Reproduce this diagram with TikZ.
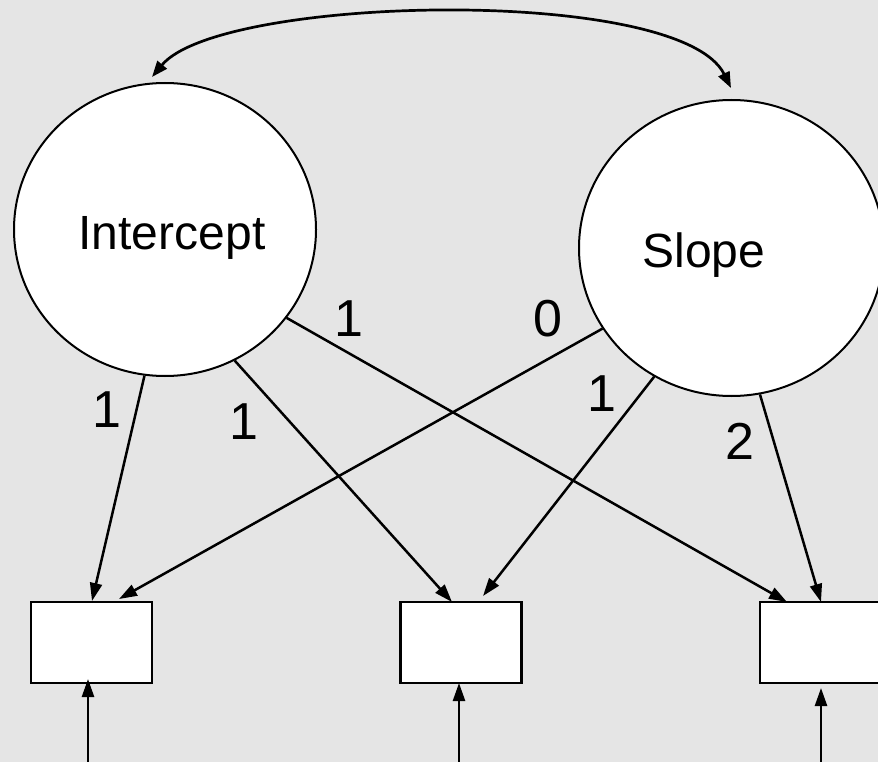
\documentclass[tikz,border=0pt]{standalone}
\usepackage{fontspec}
\setmainfont{Liberation Sans}
\usetikzlibrary{arrows.meta,shapes.geometric}
\definecolor{bggray}{RGB}{229,229,229}
\tikzset{
  latent/.style={ellipse, draw, fill=white, line width=2pt, inner sep=0pt},
  obsbox/.style={rectangle, draw, fill=white, line width=2.6pt, inner sep=0pt, minimum width=121pt, minimum height=81pt},
  pathln/.style={line width=2.5pt, -{Triangle[length=18pt,width=12pt]}},
  namelbl/.style={anchor=base, inner sep=0pt, font=\fontsize{48}{56}\selectfont},
  coeflbl/.style={anchor=base, inner sep=0pt, font=\fontsize{52}{60}\selectfont},
}
\begin{document}
\begin{tikzpicture}[x=1pt,y=-1pt]
\useasboundingbox (0,0) rectangle (878,762);
\clip (0,0) rectangle (878,762);
\fill[bggray] (0,0) rectangle (878,762);

% latent variables
\node[latent, minimum width=302pt, minimum height=293pt] (int) at (165,229.5) {};
\node[latent, minimum width=305pt, minimum height=296pt] (slo) at (731.5,248) {};
\node[namelbl] (intlbl) at (172,250) {Intercept};
\node[namelbl] (slolbl) at (704,267) {Slope};

% observed
\node[obsbox] (b1) at (91.5,642.5) {};
\node[obsbox] (b2) at (461,642.5) {};
\node[obsbox] (b3) at (820.5,642.5) {};

% arrow end points
\coordinate (e11) at (92,601);
\coordinate (e12) at (452,602);
\coordinate (e13) at (787,602);
\coordinate (e21) at (119,599);
\coordinate (e22) at (483,596);
\coordinate (e23) at (821,602);

% covariance
\coordinate (cA) at (152,77);
\coordinate (cB) at (731,88);
\draw[line width=2.7pt, {Triangle[length=16pt,width=12pt]}-{Triangle[length=16pt,width=12pt]}]
  (cA) .. controls (220,-5) and (680,-15) .. (cB);

% loadings
\draw[pathln] (int.-98) -- (e11);
\draw[pathln] (int.-62) -- (e12);
\draw[pathln] (int.-36) -- (e13);
\draw[pathln] (slo.-148.6) -- (e21);
\draw[pathln] (slo.-121.7) -- (e22);
\draw[pathln] (slo.-79.2) -- (e23);

% residuals
\coordinate (r1) at (88,765);
\coordinate (r2) at (459,765);
\coordinate (r3) at (821,765);
\coordinate (t1) at (88,679);
\coordinate (t2) at (459,683);
\coordinate (t3) at (821,688);
\draw[pathln] (r1) -- (t1);
\draw[pathln] (r2) -- (t2);
\draw[pathln] (r3) -- (t3);

% coefficients
\node[coeflbl] (l1) at (107,427) {1};
\node[coeflbl] (l2) at (243.5,439) {1};
\node[coeflbl] (l3) at (349,336) {1};
\node[coeflbl] (l4) at (548,336) {0};
\node[coeflbl] (l5) at (601.5,411.5) {1};
\node[coeflbl] (l6) at (740,459) {2};
\end{tikzpicture}
\end{document}
